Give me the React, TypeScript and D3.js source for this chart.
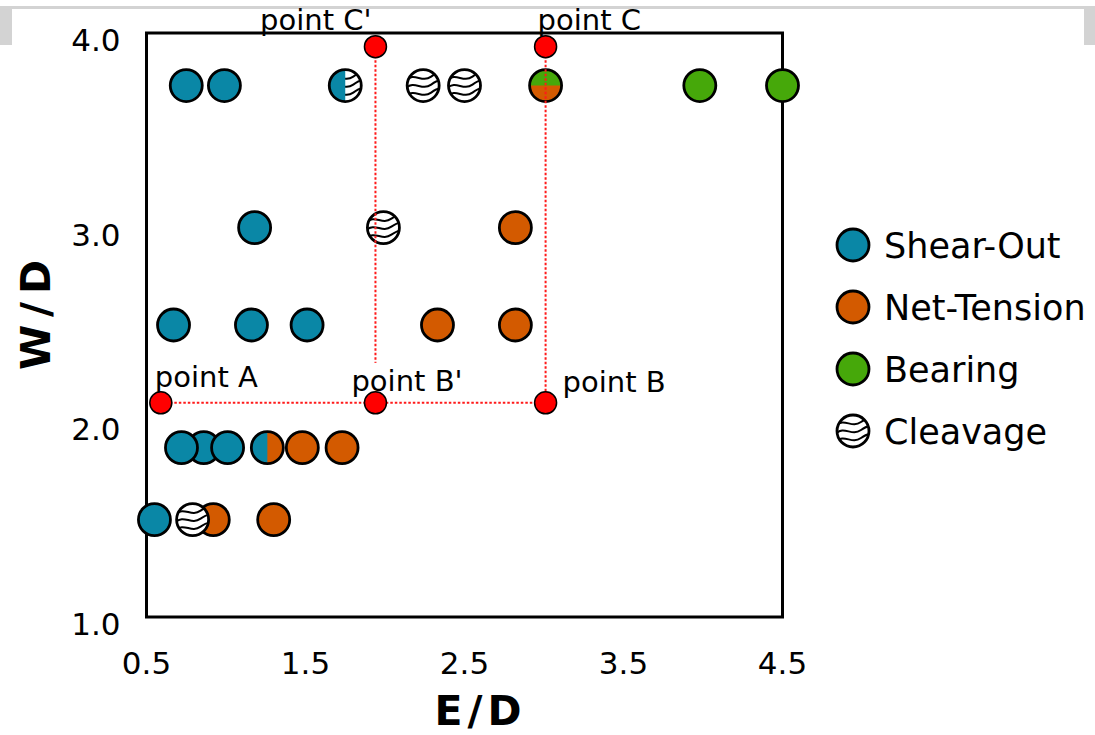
import React from "react";
import * as d3 from "d3";

// failure modes, in legend order
const modes = ["Shear-Out", "Net-Tension", "Bearing", "Cleavage"];
const modeColors: Record<string, string> = {
  "Shear-Out": "#0a87a6",
  "Net-Tension": "#d35a00",
  Bearing: "#46a80a",
  Cleavage: "#ffffff",
};

// [E/D, W/D], listed in drawing order
const shearOut = [
  [0.75, 3.73], [0.99, 3.73],
  [1.18, 3.0],
  [0.67, 2.5], [1.16, 2.5], [1.51, 2.5],
  [0.86, 1.87], [0.72, 1.87], [1.01, 1.87],
  [0.55, 1.5],
];
const netTension = [
  [2.82, 3.0],
  [2.33, 2.5], [2.82, 2.5],
  [1.48, 1.87], [1.73, 1.87],
  [0.92, 1.5], [1.3, 1.5],
];
const bearing = [[3.98, 3.73], [4.5, 3.73]];
const cleavage = [[2.24, 3.73], [2.5, 3.73], [1.99, 3.0], [0.79, 1.5]];

// specimens with two failure modes: first mode on left / top half
const mixed = [
  { x: 1.75, y: 3.73, a: "Shear-Out", b: "Cleavage", split: "v" },
  { x: 3.01, y: 3.73, a: "Bearing", b: "Net-Tension", split: "h" },
  { x: 1.26, y: 1.87, a: "Shear-Out", b: "Net-Tension", split: "v" },
];

// design points
const refNames = ["point A", "point B'", "point B", "point C'", "point C"];
const refX = [0.59, 1.94, 3.01, 1.94, 3.01];
const refY = [2.1, 2.1, 2.1, 3.93, 3.93];
const refLinks = [
  ["point A", "point B"],
  ["point C'", "point B'"],
  ["point C", "point B"],
];

const xTicks = [0.5, 1.5, 2.5, 3.5, 4.5];
const yTicks = [1.0, 2.0, 3.0, 4.0];

// label placement around each design point (styling only)
const refLabelStyle: Record<string, { dx: number; dy: number; anchor: string; bg?: boolean }> = {
  "point A": { dx: -6, dy: -16, anchor: "start" },
  "point B'": { dx: -24, dy: -12, anchor: "start", bg: true },
  "point B": { dx: 17, dy: -11, anchor: "start" },
  "point C'": { dx: -4, dy: -17, anchor: "end" },
  "point C": { dx: -8, dy: -17, anchor: "start" },
};

const W = 1095;
const H = 735;
const R = 16;
const font = "'DejaVu Sans', Verdana, sans-serif";

function Waves({ r }: { r: number }) {
  const offs = [-8, 0, 8];
  return (
    <g clipPath="url(#cleaveClip)">
      <circle r={r} fill="#fff" />
      {offs.map((o) => (
        <path
          key={o}
          d={`M${-r - 2},${o + 3} C${-r / 2},${o - 6} ${-2},${o + 6} ${r / 2},${o - 1} S${r + 4},${o - 4} ${r + 6},${o - 2}`}
          fill="none"
          stroke="#000"
          strokeWidth={2}
        />
      ))}
    </g>
  );
}

function Dot({ mode, r = R }: { mode: string; r?: number }) {
  return (
    <g>
      {mode === "Cleavage" ? <Waves r={r} /> : <circle r={r} fill={modeColors[mode]} />}
      <circle r={r} fill="none" stroke="#000" strokeWidth={2.8} />
    </g>
  );
}

export default function App() {
  const margin = { left: 146.5, right: W - 782.5, top: 33, bottom: H - 617 };
  const x = d3.scaleLinear().domain([0.5, 4.5]).range([margin.left, W - margin.right]);
  const y = d3.scaleLinear().domain([1.0, 4.0]).range([H - margin.bottom, margin.top]);

  const series: [string, number[][]][] = [
    ["Shear-Out", shearOut],
    ["Net-Tension", netTension],
    ["Bearing", bearing],
    ["Cleavage", cleavage],
  ];
  // overlap order seen in the picture: net-tension under cleavage in the 1.5 row
  const drawOrder = ["Net-Tension", "Shear-Out", "Bearing", "Cleavage"];

  const refs = refNames.map((n, i) => ({ name: n, x: refX[i], y: refY[i] }));
  const refBy = new Map(refs.map((d) => [d.name, d]));
  const legendY = d3.scalePoint().domain(modes).range([245, 431]);

  return (
    <svg
      width={W}
      height={H}
      style={{ position: "absolute", left: 0, top: 0, background: "#fff" }}
      fontFamily={font}
    >
      <defs>
        <clipPath id="cleaveClip">
          <circle r={R} />
        </clipPath>
      </defs>

      {/* screenshot frame */}
      <rect x={0} y={6} width={W} height={3} fill="#d3d3d3" />
      <rect x={0} y={6} width={12} height={39} fill="#d3d3d3" />
      <rect x={W - 11} y={6} width={11} height={39} fill="#d3d3d3" />

      {/* plot box */}
      <rect
        x={x(0.5)}
        y={y(4.0)}
        width={x(4.5) - x(0.5)}
        height={y(1.0) - y(4.0)}
        fill="none"
        stroke="#000"
        strokeWidth={3}
      />

      {/* ticks */}
      {xTicks.map((t) => (
        <text key={t} x={x(t)} y={y(1.0) + 46} fontSize={31} textAnchor="middle" dominantBaseline="central">
          {t.toFixed(1)}
        </text>
      ))}
      {yTicks.map((t) => (
        <text key={t} x={x(0.5) - 26} y={y(t) + 7} fontSize={31} textAnchor="end" dominantBaseline="central">
          {t.toFixed(1)}
        </text>
      ))}

      {/* axis titles */}
      <text x={x(2.5) + 16} y={711} fontSize={41} fontWeight="bold" textAnchor="middle" dominantBaseline="central" letterSpacing={5}>
        E/D
      </text>
      <text
        transform={`translate(36, ${(y(4) + y(1)) / 2 - 14}) rotate(-90)`}
        fontSize={41}
        fontWeight="bold"
        textAnchor="middle"
        dominantBaseline="central"
        letterSpacing={8}
      >
        W/D
      </text>

      {/* specimens */}
      {drawOrder.map((m) => {
        const pts = series.find((s) => s[0] === m)![1];
        return (
          <g key={m}>
            {pts.map((p, i) => (
              <g key={i} transform={`translate(${x(p[0])},${y(p[1])})`}>
                <Dot mode={m} />
              </g>
            ))}
          </g>
        );
      })}
      {mixed.map((p, i) => {
        const half =
          p.split === "v"
            ? `M0,${-R} A${R},${R} 0 0 0 0,${R} Z`
            : `M${-R},0 A${R},${R} 0 0 1 ${R},0 Z`;
        return (
          <g key={i} transform={`translate(${x(p.x)},${y(p.y)})`}>
            {p.b === "Cleavage" ? <Waves r={R} /> : <circle r={R} fill={modeColors[p.b]} />}
            <path d={half} fill={modeColors[p.a]} />
            <circle r={R} fill="none" stroke="#000" strokeWidth={2.8} />
          </g>
        );
      })}

      {/* dotted guide lines */}
      {refLinks.map(([a, b]) => {
        const pa = refBy.get(a)!;
        const pb = refBy.get(b)!;
        return (
          <line
            key={a + b}
            x1={x(pa.x)}
            y1={y(pa.y)}
            x2={x(pb.x)}
            y2={y(pb.y)}
            stroke="#ff1a1a"
            strokeWidth={2}
            strokeDasharray="2.5 2"
          />
        );
      })}

      {/* design point labels */}
      {refs.map((d) => {
        const s = refLabelStyle[d.name];
        const tx = x(d.x) + s.dx;
        const ty = y(d.y) + s.dy;
        return (
          <g key={d.name}>
            {s.bg && <rect x={tx - 2} y={ty - 28} width={110} height={38} fill="#fff" />}
            <text x={tx} y={ty} fontSize={29} textAnchor={s.anchor}>
              {d.name}
            </text>
          </g>
        );
      })}
      {refs.map((d) => (
        <circle key={d.name} cx={x(d.x)} cy={y(d.y)} r={11} fill="#ff0000" stroke="#000" strokeWidth={1.5} />
      ))}

      {/* legend */}
      {modes.map((m) => (
        <g key={m} transform={`translate(853,${legendY(m)})`}>
          <Dot mode={m} />
          <text x={31} y={1} fontSize={35} dominantBaseline="central">
            {m}
          </text>
        </g>
      ))}
    </svg>
  );
}
